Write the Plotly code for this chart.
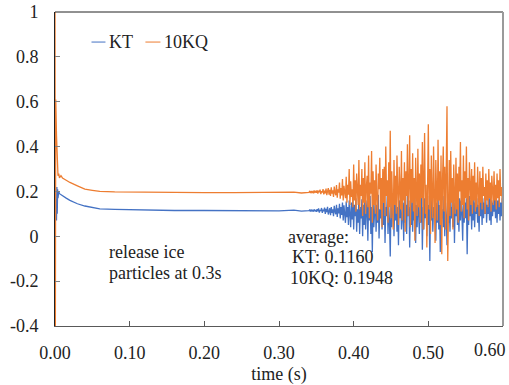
import numpy as np
import plotly.graph_objects as go

# ---------------- data ----------------
# start-up + steady part, KT
t_kt_start = [0, 0.001, 0.002, 0.0025, 0.003, 0.0035, 0.004, 0.005, 0.006, 0.008,
              0.01, 0.015, 0.02, 0.03, 0.04, 0.05, 0.06, 0.08, 0.1, 0.13,
              0.16, 0.2, 0.24, 0.28, 0.3, 0.32, 0.33]
kt_start = [0.2, 0.15, 0.07, 0.22, 0.1, 0.21, 0.17, 0.2, 0.19, 0.185,
            0.18, 0.17, 0.16, 0.145, 0.135, 0.128, 0.122, 0.12, 0.118, 0.116,
            0.115, 0.115, 0.114, 0.115, 0.113, 0.117, 0.112]

# start-up + steady part, 10KQ
t_kq_start = [0, 0.0005, 0.001, 0.002, 0.003, 0.004, 0.005, 0.006, 0.008, 0.01,
              0.015, 0.02, 0.03, 0.04, 0.05, 0.06, 0.08, 0.1, 0.13, 0.16,
              0.2, 0.24, 0.28, 0.3, 0.32, 0.33]
kq_start = [1.0, -0.4, 0.61, 0.45, 0.3, 0.27, 0.28, 0.26, 0.27, 0.26,
            0.25, 0.24, 0.225, 0.21, 0.205, 0.2, 0.198, 0.197, 0.196, 0.196,
            0.195, 0.195, 0.196, 0.195, 0.197, 0.193]

# fluctuating part (sampled every 1 ms from 0.34 s, one row = 10 ms)
t_noise_start = 0.34
t_noise_step = 0.001
kt_noise = [
    0.114, 0.117, 0.111, 0.119, 0.113, 0.116, 0.110, 0.120, 0.112, 0.117,
    0.109, 0.121, 0.111, 0.124, 0.106, 0.118, 0.113, 0.126, 0.104, 0.119,
    0.112, 0.128, 0.100, 0.122, 0.108, 0.131, 0.097, 0.118, 0.125, 0.094,
    0.130, 0.105, 0.120, 0.090, 0.136, 0.110, 0.098, 0.140, 0.086, 0.125,
    0.102, 0.145, 0.080, 0.130, 0.095, 0.150, 0.070, 0.138, 0.110, 0.060,
    0.155, 0.085, 0.130, 0.050, 0.160, 0.100, 0.040, 0.150, 0.075, 0.165,
    0.030, 0.140, 0.090, 0.170, 0.020, 0.120, 0.060, 0.175, 0.010, 0.130,
    0.080, 0.165, 0.000, 0.140, 0.050, 0.180, 0.030, 0.120, 0.160, -0.020,
    0.150, 0.070, 0.180, 0.010, 0.130, -0.070, 0.160, 0.040, 0.110, 0.170,
    0.020, 0.140, 0.060, 0.185, -0.010, 0.120, 0.080, 0.160, 0.030, 0.150,
    0.050, 0.170, -0.030, 0.130, 0.090, 0.180, 0.010, 0.140, 0.060, -0.090,
    0.160, 0.040, 0.120, 0.180, 0.000, 0.150, 0.070, 0.170, 0.020, 0.130,
    -0.040, 0.160, 0.080, 0.180, 0.030, 0.120, 0.150, -0.020, 0.170, 0.060,
    0.140, 0.010, 0.180, 0.090, 0.160, -0.050, 0.130, 0.050, 0.175, 0.020,
    0.150, 0.070, 0.180, -0.030, 0.140, 0.040, 0.170, 0.100, 0.010, 0.160,
    0.060, 0.180, -0.060, 0.130, 0.030, 0.170, 0.080, 0.150, 0.000, 0.180,
    0.050, 0.140, -0.110, 0.160, 0.070, 0.180, 0.020, 0.130, 0.090, 0.170,
    -0.020, 0.150, 0.060, 0.180, 0.030, 0.140, -0.070, 0.170, 0.080, 0.120,
    0.040, 0.180, 0.000, 0.150, 0.090, -0.040, 0.170, 0.060, 0.140, 0.020,
    0.180, 0.080, 0.130, 0.040, 0.170, -0.030, 0.150, 0.090, 0.180, 0.050,
    0.140, 0.020, 0.170, 0.070, 0.160, 0.100, -0.020, 0.180, 0.060, 0.150,
    0.080, 0.170, -0.080, 0.140, 0.050, 0.180, 0.090, 0.160, 0.030, 0.150,
    0.070, 0.180, 0.040, 0.150, 0.100, 0.170, 0.060, 0.140, 0.020, 0.180,
    0.090, 0.160, 0.050, 0.170, 0.080, 0.150, 0.100, 0.180, 0.060, 0.140,
    0.100, 0.170, 0.070, 0.180, 0.050, 0.160, 0.090, 0.150, 0.110, 0.170,
    0.080, 0.180, 0.060, 0.160, 0.100, 0.170, 0.070, 0.150, 0.090, 0.170,
    0.120]
kq_noise = [
    0.196, 0.200, 0.193, 0.202, 0.195, 0.199, 0.192, 0.204, 0.196, 0.200,
    0.194, 0.205, 0.190, 0.203, 0.196, 0.208, 0.188, 0.201, 0.195, 0.210,
    0.187, 0.204, 0.192, 0.213, 0.183, 0.200, 0.215, 0.186, 0.207, 0.180,
    0.218, 0.190, 0.205, 0.175, 0.222, 0.195, 0.183, 0.228, 0.172, 0.210,
    0.195, 0.240, 0.168, 0.215, 0.182, 0.255, 0.160, 0.225, 0.190, 0.170,
    0.265, 0.150, 0.230, 0.185, 0.300, 0.140, 0.245, 0.175, 0.210, 0.130,
    0.320, 0.160, 0.250, 0.110, 0.280, 0.200, 0.140, 0.340, 0.120, 0.230,
    0.180, 0.300, 0.090, 0.260, 0.150, 0.330, 0.100, 0.220, 0.270, 0.130,
    0.360, 0.080, 0.240, 0.190, 0.380, 0.060, 0.290, 0.140, 0.250, 0.100,
    0.320, 0.170, 0.070, 0.280, 0.210, 0.350, 0.120, 0.260, 0.040, 0.300,
    0.150, 0.310, 0.090, 0.400, 0.180, 0.250, 0.060, 0.330, 0.130, 0.470,
    0.080, 0.290, 0.200, 0.030, 0.340, 0.140, 0.270, 0.100, 0.360, 0.190,
    0.050, 0.310, 0.220, 0.120, 0.380, 0.070, 0.260, 0.160, 0.330, 0.020,
    0.290, 0.180, 0.410, 0.090, 0.240, 0.450, 0.040, 0.300, 0.150, 0.370,
    0.110, 0.260, -0.020, 0.350, 0.200, 0.090, 0.390, 0.130, 0.280, 0.060,
    0.320, 0.170, 0.420, 0.030, 0.270, 0.460, 0.100, 0.230, -0.050, 0.380,
    0.500, 0.120, 0.300, 0.010, 0.360, 0.190, 0.080, 0.400, 0.140, -0.030,
    0.340, 0.220, 0.070, 0.430, 0.160, 0.290, 0.050, 0.360, -0.080, 0.250,
    0.400, 0.110, 0.310, 0.030, 0.270, 0.580, -0.110, 0.210, 0.340, 0.090,
    0.380, 0.150, 0.260, 0.030, 0.320, 0.180, 0.100, 0.350, 0.120, 0.280,
    0.060, 0.310, 0.200, 0.420, 0.110, 0.250, 0.140, 0.360, 0.080, 0.290,
    0.170, 0.400, 0.120, 0.260, 0.070, 0.330, 0.190, 0.140, 0.300, 0.100,
    0.270, 0.160, 0.330, 0.110, 0.240, 0.130, 0.310, 0.180, 0.090, 0.290,
    0.150, 0.260, 0.120, 0.310, 0.180, 0.220, 0.100, 0.280, 0.160, 0.250,
    0.130, 0.300, 0.170, 0.240, 0.110, 0.270, 0.190, 0.140, 0.290, 0.160,
    0.230, 0.120, 0.280, 0.170, 0.250, 0.130, 0.300, 0.180, 0.220, 0.150,
    0.250]

x_tick_vals = [0, 0.1, 0.2, 0.3, 0.4, 0.5, 0.6]
x_tick_text = ["0.00", "0.10", "0.20", "0.30", "0.40", "0.50", "0.60"]
y_tick_vals = [-0.4, -0.2, 0, 0.2, 0.4, 0.6, 0.8, 1]
y_tick_text = ["-0.4", "-0.2", "0", "0.2", "0.4", "0.6", "0.8", "1"]

series_names = ["KT", "10KQ"]
avg_lines = ["average:", "KT: 0.1160", "10KQ: 0.1948"]
note_lines = ["release ice", "particles at 0.3s"]

# ---------------- build ----------------
t_kt = list(t_kt_start) + list(t_noise_start + t_noise_step * np.arange(len(kt_noise)))
y_kt = list(kt_start) + list(kt_noise)
t_kq = list(t_kq_start) + list(t_noise_start + t_noise_step * np.arange(len(kq_noise)))
y_kq = list(kq_start) + list(kq_noise)

BLUE = "#4472C4"
ORANGE = "#ED7D31"
FONT = "Liberation Serif"

fig = go.Figure()
fig.add_trace(go.Scatter(x=t_kt, y=y_kt, mode="lines", name=series_names[0],
                         line=dict(color=BLUE, width=1.3), showlegend=False))
fig.add_trace(go.Scatter(x=t_kq, y=y_kq, mode="lines", name=series_names[1],
                         line=dict(color=ORANGE, width=1.3), showlegend=False))

fig.update_layout(
    width=509, height=385,
    margin=dict(l=55, r=6, t=12, b=59, autoexpand=False),
    paper_bgcolor="white", plot_bgcolor="white",
    font=dict(family=FONT, size=18, color="#222222"),
    showlegend=False,
)
# the last x label is kept inside the picture (as in the reference), drawn separately
axis_x_text = x_tick_text[:-1] + [""]
fig.update_xaxes(range=[0, 0.6], tickvals=x_tick_vals, ticktext=axis_x_text,
                 showgrid=False, zeroline=False, showline=True, linecolor="#595959",
                 linewidth=1, ticks="inside", ticklen=5, tickcolor="#595959",
                 ticklabelstandoff=10, automargin=False,
                 tickfont=dict(family=FONT, size=18),
                 title=dict(text="time (s)", font=dict(family=FONT, size=18), standoff=6))
fig.add_annotation(x=1.011, y=0, xref="paper", yref="paper", text=x_tick_text[-1],
                   showarrow=False, xanchor="right", yanchor="top", yshift=-12,
                   font=dict(family=FONT, size=18))
fig.update_yaxes(range=[-0.4, 1], tickvals=y_tick_vals, ticktext=y_tick_text,
                 showgrid=False, zeroline=False, showline=True, linecolor="#222222",
                 linewidth=1, ticks="inside", ticklen=5, tickcolor="#808080",
                 automargin=False,
                 ticklabelstandoff=12, tickfont=dict(family=FONT, size=18))

# frame: top (black) and right (gray)
fig.add_shape(type="line", xref="paper", yref="paper", x0=0, x1=1, y0=1, y1=1,
              line=dict(color="#222222", width=1))
fig.add_shape(type="line", xref="paper", yref="paper", x0=1, x1=1, y0=0, y1=1,
              line=dict(color="#9a9a9a", width=2))

# legend (short line + label)
leg = [(series_names[0], BLUE, 0.0489, 0.0676, 0.0703),
       (series_names[1], ORANGE, 0.1211, 0.1412, 0.1439)]
for name, col, xa, xb, xt in leg:
    fig.add_shape(type="line", x0=xa, x1=xb, y0=0.866, y1=0.866,
                  line=dict(color=col, width=1))
    fig.add_annotation(x=xt, y=0.866, text=name, showarrow=False,
                       xanchor="left", yanchor="middle",
                       font=dict(family=FONT, size=18))

# text notes
for txt, y in zip(note_lines, [-0.07, -0.164]):
    fig.add_annotation(x=0.069, y=y, text=txt, showarrow=False,
                       xanchor="left", yanchor="middle",
                       font=dict(family=FONT, size=18))
for txt, x, y in zip(avg_lines, [0.31, 0.3153, 0.3126], [-0.003, -0.092, -0.186]):
    fig.add_annotation(x=x, y=y, text=txt, showarrow=False,
                       xanchor="left", yanchor="middle",
                       font=dict(family=FONT, size=18))

fig.write_html("out.html")
